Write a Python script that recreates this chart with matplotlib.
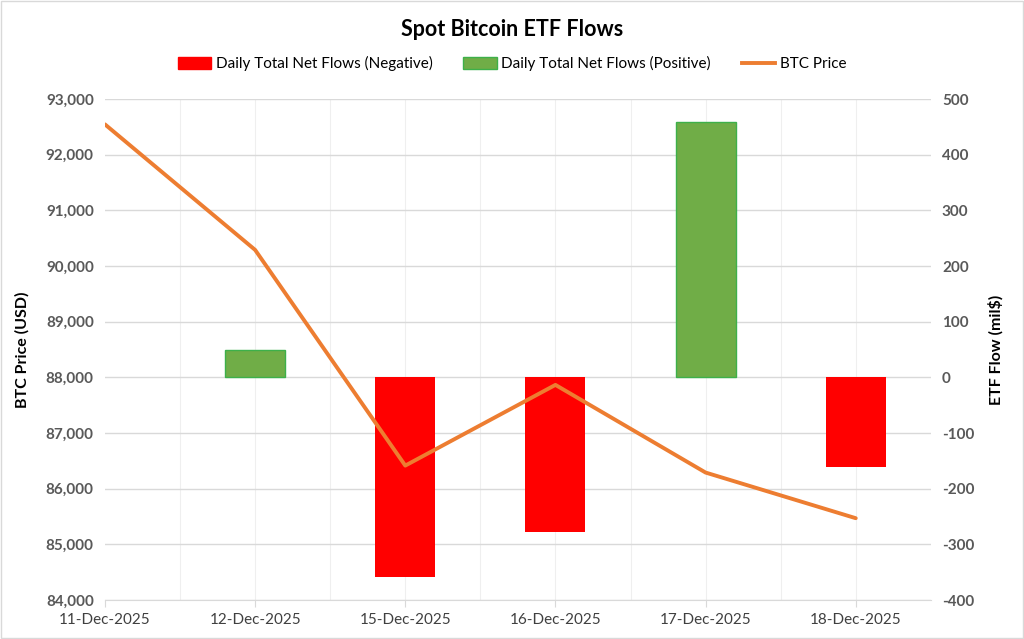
import numpy as np
import matplotlib.pyplot as plt
from matplotlib.patches import Patch
from matplotlib.lines import Line2D
from matplotlib.ticker import FuncFormatter, MultipleLocator

plt.rcParams['font.family'] = ['Lato', 'DejaVu Sans']

# ── Data ──────────────────────────────────────────────────────────────────────
dates = ["11-Dec-2025", "12-Dec-2025", "15-Dec-2025",
         "16-Dec-2025", "17-Dec-2025", "18-Dec-2025"]
btc_price = [92545, 90290, 86415, 87865, 86290, 85470]
net_flows = [np.nan, 50, -358, -277, 458, -161]

GREY = "#595959"
GRID = "#D9D9D9"

x = np.arange(len(dates))
flows = np.array(net_flows, dtype=float)
neg = np.where(flows < 0, flows, np.nan)
pos = np.where(flows > 0, flows, np.nan)

fig = plt.figure(figsize=(10.24, 6.39), dpi=100)
ax = fig.add_axes([0.1025, 0.061, 0.8065, 0.784])
ax2 = ax.twinx()

# bars on the right (flow) axis
ax2.bar(x, neg, width=0.4, color="#FF0000", zorder=2)
ax2.bar(x, pos, width=0.4, color="#70AD47", edgecolor="#3DB04A",
        linewidth=1, zorder=2)
ax2.set_ylim(-400, 500)
ax2.yaxis.set_major_locator(MultipleLocator(100))
ax2.yaxis.set_major_formatter(FuncFormatter(lambda v, p: f"{v:.0f}"))

# grid drawn on the back axis
for v in np.arange(0.5, 5.5, 0.5):
    ax2.axvline(v, color="#EFEFEF", lw=0.8, zorder=0)
for h in np.arange(-400, 501, 100):
    ax2.axhline(h, color=GRID, lw=1, zorder=0)

# price line on the left axis, drawn above the bars
ax.set_zorder(ax2.get_zorder() + 1)
ax.patch.set_visible(False)
ax.plot(x, btc_price, color="#ED7D31", lw=2.8, solid_capstyle="round")
ax.set_ylim(84000, 93000)
ax.yaxis.set_major_locator(MultipleLocator(1000))
ax.yaxis.set_major_formatter(FuncFormatter(lambda v, p: f"{v:,.0f}"))

ax.set_xlim(0, 5.5)
ax.set_xticks(x)
ax.set_xticklabels(dates)

for a in (ax, ax2):
    for s in a.spines.values():
        s.set_visible(False)
    a.tick_params(axis="y", length=0, labelsize=11, labelcolor=GREY, pad=8)
    for lbl in a.get_yticklabels():
        lbl.set_fontweight("bold")
ax.spines["bottom"].set_visible(True)
ax.spines["bottom"].set_color(GRID)
ax.tick_params(axis="x", length=5, color=GRID, labelsize=11,
               labelcolor="#404040", pad=4)

ax.set_ylabel("BTC Price (USD)", fontsize=11.5, fontweight="bold", labelpad=12)
ax2.set_ylabel("ETF Flow (mil$)", fontsize=11.5, fontweight="bold", labelpad=10)

fig.suptitle("Spot Bitcoin ETF Flows", y=0.97, fontsize=15.5, fontweight="bold")

handles = [Patch(color="#FF0000"),
           Patch(facecolor="#70AD47", edgecolor="#3DB04A"),
           Line2D([0], [0], color="#ED7D31", lw=2.8)]
labels = ["Daily Total Net Flows (Negative)", "Daily Total Net Flows (Positive)",
          "BTC Price"]
fig.legend(handles, labels, loc="center", bbox_to_anchor=(0.5, 0.9), ncol=3,
           frameon=False, fontsize=11, handlelength=2.2, handleheight=0.8,
           columnspacing=2.0, handletextpad=0.3)

# outer border
fig.patches.append(plt.Rectangle((0.001, 0.001), 0.998, 0.997,
                                 transform=fig.transFigure, fill=False,
                                 edgecolor="#D9D9D9", lw=1))

fig.savefig("out.png", dpi=100)
